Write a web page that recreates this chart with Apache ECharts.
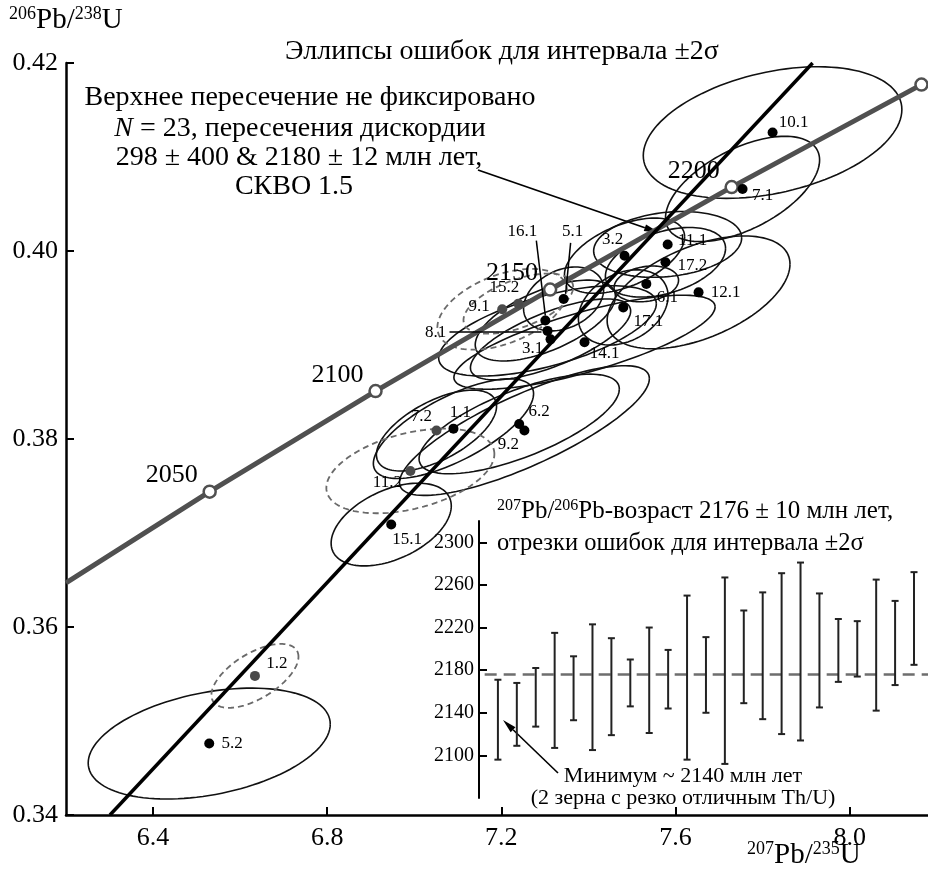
<!DOCTYPE html>
<html>
<head>
<meta charset="utf-8">
<script src="https://cdn.jsdelivr.net/npm/echarts@6/dist/echarts.min.js"></script>
<style>
  html, body { margin: 0; padding: 0; background: #fff; }
  #chart { width: 928px; height: 874px; }
</style>
</head>
<body>
<div id="chart"></div>
<script>
// analysed spots: 207Pb/235U, 206Pb/238U and 2-sigma error ellipse (half-widths + correlation)
var spotLabels = ['10.1', '7.1', '3.2', '11.1', '17.2', '6.1', '12.1', '17.1', '14.1', '15.2', '9.1', '5.1',
                  '16.1', '8.1', '3.1', '7.2', '1.1', '6.2', '9.2', '11.2', '15.1', '1.2', '5.2']
var spotX = [7.823, 7.754, 7.483, 7.582, 7.577, 7.533, 7.653, 7.480, 7.391, 7.239, 7.202, 7.343,
             7.301, 7.306, 7.313, 7.051, 7.090, 7.241, 7.253, 6.991, 6.947, 6.634, 6.529]
var spotY = [0.4126, 0.4066, 0.3995, 0.4007, 0.3988, 0.3965, 0.3956, 0.3940, 0.3903, 0.3944, 0.3938, 0.3949,
             0.3926, 0.3915, 0.3906, 0.3809, 0.3811, 0.3816, 0.3809, 0.3766, 0.3709, 0.3548, 0.3476]
var ellSx = [0.297, 0.177, 0.138, 0.170, 0.138, 0.074, 0.210, 0.103, 0.300, 0.126, 0.149, 0.092,
             0.161, 0.250, 0.184, 0.138, 0.184, 0.230, 0.287, 0.193, 0.138, 0.100, 0.278]
var ellSy = [0.0070, 0.0056, 0.0040, 0.0035, 0.0037, 0.0019, 0.0060, 0.0040, 0.0050, 0.0032, 0.0043, 0.0034,
             0.0043, 0.0048, 0.0043, 0.0043, 0.0053, 0.0053, 0.0069, 0.0045, 0.0044, 0.0034, 0.0059]
var ellRho = [0.35, 0.55, 0.5, 0.2, 0.4, 0.2, 0.5, 0.3, 0.75, 0.55, 0.45, 0.3,
              0.6, 0.6, 0.7, 0.6, 0.7, 0.7, 0.8, 0.4, 0.45, 0.6, 0.35]
var dashedSpots = ['15.2', '9.1', '11.2', '1.2']
var greySpots = ['15.2', '9.1', '7.2', '11.2', '1.2']

// concordia and discordia
var concordiaX = [6.2, 6.530, 6.911, 7.312, 7.729, 8.165]
var concordiaY = [0.3647, 0.3744, 0.3851, 0.3959, 0.4068, 0.4177]
var concordiaAges = ['', '2050', '2100', '2150', '2200', '']
var discordiaX = [6.301, 7.915]
var discordiaY = [0.34, 0.42]

var xTicks = [6.4, 6.8, 7.2, 7.6, 8.0]
var yTicks = [0.34, 0.36, 0.38, 0.40, 0.42]

// inset: 207Pb/206Pb ages with 2-sigma bars
var grainNo = [1, 2, 3, 4, 5, 6, 7, 8, 9, 10, 11, 12, 13, 14, 15, 16, 17, 18, 19, 20, 21, 22, 23]
var ageLow = [2096, 2109, 2127, 2107, 2133, 2105, 2119, 2146, 2121, 2144, 2096, 2140,
              2092, 2149, 2134, 2120, 2114, 2145, 2169, 2174, 2142, 2166, 2185]
var ageHigh = [2171, 2168, 2182, 2215, 2193, 2223, 2210, 2190, 2220, 2199, 2250, 2211,
               2267, 2236, 2253, 2271, 2281, 2252, 2228, 2226, 2265, 2245, 2272]
var meanAge = 2176
var insetTicks = [2100, 2140, 2180, 2220, 2260, 2300]

var FONT = '"Liberation Serif", "DejaVu Serif", serif'

// label placement around each dot (pixels)
var labelShift = {
  '10.1': [21, -10], '7.1': [20, 7], '3.2': [-12, -16], '11.1': [25, -4], '17.2': [27, 3],
  '6.1': [21, 14], '12.1': [27, 0], '17.1': [25, 14], '14.1': [20, 11], '15.2': [-14, -16],
  '9.1': [-23, -3], '5.1': [9, -67], '16.1': [-23, -89], '8.1': [-112, 2], '3.1': [-18, 9],
  '7.2': [-15, -14], '1.1': [7, -16], '6.2': [20, -12], '9.2': [-16, 14], '11.2': [-23, 12],
  '15.1': [16, 15], '1.2': [22, -12], '5.2': [23, 0]
}
var leaders = { '16.1': [-9, -80, 0, -5], '5.1': [7, -56, 2, -5], '8.1': [-98, 1, -6, 1] }

var chart = echarts.init(document.getElementById('chart'), null, { renderer: 'canvas' })

function ellipseItem(style) {
  return function (params, api) {
    var cx = api.value(0), cy = api.value(1), sx = api.value(2), sy = api.value(3), r = api.value(4)
    var k = Math.sqrt(1 - r * r)
    var pts = []
    for (var j = 0; j <= 120; j++) {
      var t = j / 120 * 2 * Math.PI
      pts.push(api.coord([cx + sx * Math.cos(t), cy + sy * (r * Math.cos(t) + k * Math.sin(t))]))
    }
    return { type: 'polyline', shape: { points: pts }, style: style }
  }
}

function spotItem(params, api) {
  var lab = spotLabels[api.value(2)]
  var p = api.coord([api.value(0), api.value(1)])
  var off = labelShift[lab]
  var grey = greySpots.indexOf(lab) >= 0
  var kids = [
    { type: 'circle', shape: { cx: p[0], cy: p[1], r: 5 }, style: { fill: grey ? '#4a4a4a' : '#000' } },
    { type: 'text', x: p[0] + off[0], y: p[1] + off[1],
      style: { text: lab, fontSize: 17, fontFamily: FONT, fill: '#000', align: 'center', verticalAlign: 'middle' } }
  ]
  var ld = leaders[lab]
  if (ld) {
    kids.push({ type: 'line', shape: { x1: p[0] + ld[0], y1: p[1] + ld[1], x2: p[0] + ld[2], y2: p[1] + ld[3] },
      style: { stroke: '#000', lineWidth: 1.5 } })
  }
  return { type: 'group', children: kids }
}

function barItem(params, api) {
  var lo = api.coord([api.value(0), api.value(1)])
  var hi = api.coord([api.value(0), api.value(2)])
  var w = 3.5
  var st = { stroke: '#222', lineWidth: 2 }
  return { type: 'group', children: [
    { type: 'line', shape: { x1: lo[0], y1: lo[1], x2: hi[0], y2: hi[1] }, style: st },
    { type: 'line', shape: { x1: lo[0] - w, y1: lo[1], x2: lo[0] + w, y2: lo[1] }, style: st },
    { type: 'line', shape: { x1: hi[0] - w, y1: hi[1], x2: hi[0] + w, y2: hi[1] }, style: st }
  ] }
}

function arrow(x1, y1, x2, y2, len, wid, lw) {
  var a = Math.atan2(y2 - y1, x2 - x1)
  var bx = x2 - len * Math.cos(a), by = y2 - len * Math.sin(a)
  var px = -Math.sin(a) * wid, py = Math.cos(a) * wid
  return [
    { type: 'line', shape: { x1: x1, y1: y1, x2: bx, y2: by }, style: { stroke: '#000', lineWidth: lw } },
    { type: 'polygon', shape: { points: [[x2, y2], [bx + px, by + py], [bx - px, by - py]] }, style: { fill: '#000' } }
  ]
}

var solidData = [], dashedData = [], spotData = []
spotLabels.forEach(function (lab, i) {
  var row = [spotX[i], spotY[i], ellSx[i], ellSy[i], ellRho[i]]
  if (dashedSpots.indexOf(lab) >= 0) dashedData.push(row)
  else solidData.push(row)
  spotData.push([spotX[i], spotY[i], i])
})

var concordiaLine = concordiaX.map(function (x, i) { return [x, concordiaY[i]] })
var ageMarks = []
concordiaX.forEach(function (x, i) {
  if (i > 0) ageMarks.push({ value: [x, concordiaY[i]], name: concordiaAges[i] })
})
var barData = grainNo.map(function (n, i) { return [n, ageLow[i], ageHigh[i]] })

var sup = { fontSize: 18, fontFamily: FONT, verticalAlign: 'top', lineHeight: 31 }
var big = { fontSize: 29, fontFamily: FONT, lineHeight: 31 }
var txt = function (s, x, y, size, align) {
  return { type: 'text', x: x, y: y, style: { text: s, fontSize: size, fontFamily: FONT, fill: '#000',
    align: align || 'center', verticalAlign: 'middle', rich: { i: { fontSize: size, fontFamily: FONT, fontStyle: 'italic' } } } }
}

var option = {
  animation: false,
  backgroundColor: '#fff',
  grid: [
    { left: 66, right: 0, top: 63, bottom: 59 },
    { left: 479, right: 0, top: 521, bottom: 76 }
  ],
  xAxis: [
    {
      type: 'value', gridIndex: 0, min: 6.2, max: 8.18,
      axisLine: { onZero: false, lineStyle: { color: '#000', width: 2.5 } },
      axisTick: { inside: true, length: 8, customValues: xTicks, lineStyle: { color: '#000', width: 2 } },
      axisLabel: { customValues: xTicks, formatter: function (v) { return v.toFixed(1) },
        fontSize: 26, fontFamily: FONT, color: '#000', margin: 10 },
      splitLine: { show: false }
    },
    {
      type: 'value', gridIndex: 1, min: 0, max: 23.74, show: false
    }
  ],
  yAxis: [
    {
      type: 'value', gridIndex: 0, min: 0.34, max: 0.42,
      axisLine: { onZero: false, lineStyle: { color: '#000', width: 2.5 } },
      axisTick: { inside: true, length: 8, customValues: yTicks, lineStyle: { color: '#000', width: 2 } },
      axisLabel: { customValues: yTicks, formatter: function (v) { return v.toFixed(2) },
        fontSize: 26, fontFamily: FONT, color: '#000', margin: 8 },
      splitLine: { show: false }
    },
    {
      type: 'value', gridIndex: 1, min: 2060, max: 2320,
      axisLine: { show: true, onZero: false, lineStyle: { color: '#000', width: 2 } },
      axisTick: { inside: true, length: 8, customValues: insetTicks, lineStyle: { color: '#000', width: 2 } },
      axisLabel: { customValues: insetTicks, formatter: function (v) { return String(v) },
        fontSize: 20, fontFamily: FONT, color: '#000', margin: 5 },
      splitLine: { show: false }
    }
  ],
  series: [
    {
      type: 'custom', name: 'ellipses', xAxisIndex: 0, yAxisIndex: 0, clip: true,
      renderItem: ellipseItem({ fill: null, stroke: '#111', lineWidth: 1.6 }),
      data: solidData, z: 2
    },
    {
      type: 'custom', name: 'ellipses-dashed', xAxisIndex: 0, yAxisIndex: 0, clip: true,
      renderItem: ellipseItem({ fill: null, stroke: '#6a6a6a', lineWidth: 1.8, lineDash: [6, 4] }),
      data: dashedData, z: 2
    },
    {
      type: 'line', name: 'concordia', xAxisIndex: 0, yAxisIndex: 0,
      data: concordiaLine, symbol: 'none', smooth: false,
      lineStyle: { color: '#505050', width: 5 }, z: 3
    },
    {
      type: 'line', name: 'discordia', xAxisIndex: 0, yAxisIndex: 0,
      data: discordiaX.map(function (x, i) { return [x, discordiaY[i]] }), symbol: 'none',
      lineStyle: { color: '#000', width: 3.5 }, z: 4
    },
    {
      type: 'scatter', name: 'ages', xAxisIndex: 0, yAxisIndex: 0,
      data: ageMarks, symbol: 'circle', symbolSize: 12,
      itemStyle: { color: '#fff', borderColor: '#505050', borderWidth: 2.5, opacity: 1 },
      label: { show: true, formatter: '{b}', position: 'inside', offset: [-38, -16],
        fontSize: 26, fontFamily: FONT, color: '#000' },
      z: 5
    },
    {
      type: 'custom', name: 'spots', xAxisIndex: 0, yAxisIndex: 0,
      renderItem: spotItem, data: spotData, z: 6
    },
    {
      type: 'line', name: 'mean', xAxisIndex: 1, yAxisIndex: 1,
      data: [[0.3, meanAge], [23.74, meanAge]], symbol: 'none',
      lineStyle: { color: '#6e6e6e', width: 2.5, type: [12, 7] }, z: 3
    },
    {
      type: 'custom', name: 'bars', xAxisIndex: 1, yAxisIndex: 1,
      renderItem: barItem, data: barData, z: 4
    }
  ],
  graphic: [
    { type: 'text', left: 9, top: 5, style: { text: '{s|206}{b|Pb/}{s|238}{b|U}', rich: { s: sup, b: big }, fill: '#000' } },
    { type: 'text', left: 747, top: 840, style: { text: '{s|207}{b|Pb/}{s|235}{b|U}', rich: { s: sup, b: big }, fill: '#000' } },
    txt('Эллипсы ошибок для интервала ±2σ', 502, 52, 28),
    txt('Верхнее пересечение не фиксировано', 310, 98, 28),
    txt('{i|N} = 23, пересечения дискордии', 300, 129, 28),
    txt('298 ± 400 & 2180 ± 12 млн лет,', 299, 158, 28),
    txt('СКВО 1.5', 294, 187, 28),
    { type: 'group', children: arrow(478, 170, 660, 233, 16, 3.5, 1.8) },
    { type: 'text', left: 497, top: 498, style: { text: '{s|207}{b|Pb/}{s|206}{b|Pb-возраст 2176 ± 10 млн лет,}',
      rich: { s: { fontSize: 16, fontFamily: FONT, verticalAlign: 'top', lineHeight: 27 }, b: { fontSize: 25, fontFamily: FONT, lineHeight: 27 } }, fill: '#000' } },
    txt('отрезки ошибок для интервала ±2σ', 497, 544, 24.5, 'left'),
    txt('Минимум ~ 2140 млн лет', 683, 776, 22),
    txt('(2 зерна с резко отличным Th/U)', 683, 798, 22),
    { type: 'group', children: arrow(558, 773, 503, 720, 14, 3.5, 1.6) }
  ]
}

chart.setOption(option)
</script>
</body>
</html>
